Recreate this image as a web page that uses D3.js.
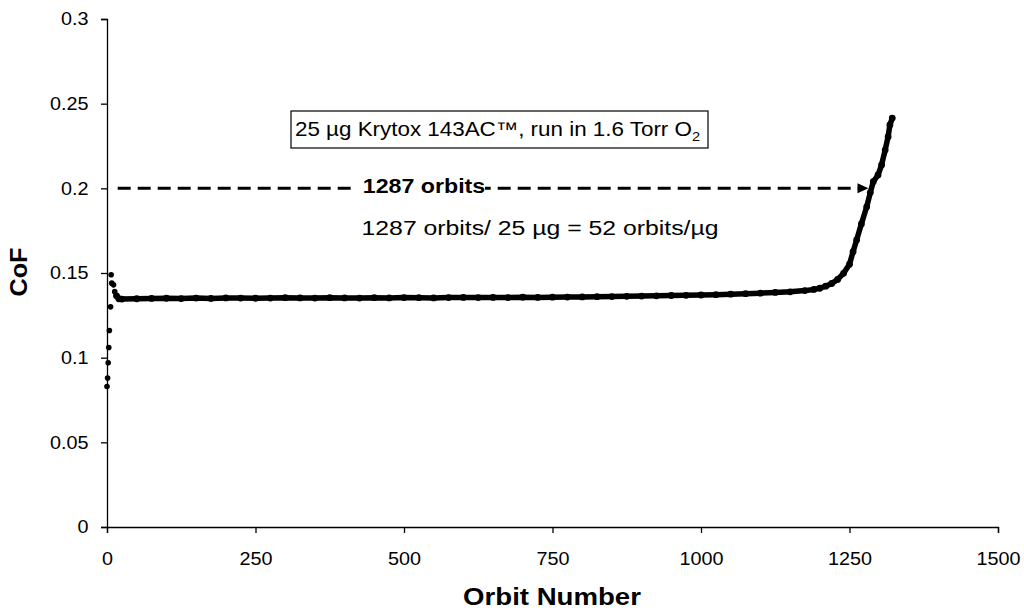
<!DOCTYPE html>
<html>
<head>
<meta charset="utf-8">
<script src="https://cdn.jsdelivr.net/npm/d3@7"></script>
<style>
  body { margin: 0; background: #fff; }
  svg { display: block; font-family: "Liberation Sans", Arial, sans-serif; }
</style>
</head>
<body>
<svg id="chart" width="1024" height="610"></svg>
<script>
// start-up readings (scattered dots, no line)
const startOrbits = [0, 1, 2, 3, 4, 6, 7, 8, 11, 13];
const startCof = [0.083, 0.088, 0.097, 0.106, 0.116, 0.130, 0.149, 0.144, 0.143, 0.139];

// main trace
const orbits = [16, 20, 25, 50, 75, 100, 125, 150, 175, 200, 225, 250, 275, 300, 325, 350, 375, 400,
  425, 450, 475, 500, 525, 550, 575, 600, 625, 650, 675, 700, 725, 750, 775, 800, 825, 850, 875, 900,
  925, 950, 975, 1000, 1025, 1050, 1075, 1100, 1125, 1150, 1175, 1190, 1200, 1210, 1220, 1230, 1240,
  1250, 1256, 1262, 1270, 1279, 1285, 1290, 1298, 1304, 1310, 1315, 1318, 1322];
const cof = [0.1365, 0.1348, 0.1346, 0.1348, 0.1350, 0.1351, 0.1349, 0.1352, 0.1350, 0.1353, 0.1352, 0.1351,
  0.1352, 0.1354, 0.1353, 0.1352, 0.1354, 0.1353, 0.1352, 0.1354, 0.1353, 0.1355, 0.1354, 0.1353, 0.1355,
  0.1356, 0.1355, 0.1356, 0.1355, 0.1357, 0.1356, 0.1357, 0.1358, 0.1359, 0.1360, 0.1361, 0.1362, 0.1364,
  0.1365, 0.1367, 0.1368, 0.1370, 0.1372, 0.1375, 0.1378, 0.1381, 0.1385, 0.1389, 0.1396, 0.1403, 0.1410,
  0.1422, 0.1438, 0.1462, 0.1498, 0.1552, 0.1626, 0.1695, 0.1790, 0.1891, 0.1975, 0.2039, 0.2079, 0.2138,
  0.2226, 0.2305, 0.2374, 0.2415];

const xTicks = [0, 250, 500, 750, 1000, 1250, 1500];
const yTicks = [0, 0.05, 0.1, 0.15, 0.2, 0.25, 0.3];

// arrow annotation (orbit units / CoF)
const arrowFrom = [18, 0.2];
const arrowTo = [1282, 0.2];

const margin = {top: 19, right: 26, bottom: 83, left: 107};
const width = 1024 - margin.left - margin.right;
const height = 610 - margin.top - margin.bottom;

const svg = d3.select('#chart');
const g = svg.append('g').attr('transform', `translate(${margin.left},${margin.top})`);

const x = d3.scaleLinear().domain([0, 1500]).range([0, width]);
const y = d3.scaleLinear().domain([0, 0.3]).range([height, 0]);

// the scanned lettering is a bit wider than Liberation Sans, so stretch it
const label = (parent, px, py, txt, size, sx, opts = {}) => {
  const t = parent.append('text')
    .attr('transform', `translate(${px},${py})` + (opts.rotate ? ` rotate(${opts.rotate})` : '') + ` scale(${sx},1)`)
    .attr('text-anchor', opts.anchor || 'middle')
    .style('font-size', size + 'px')
    .style('font-weight', opts.bold ? 'bold' : 'normal')
    .attr('fill', '#000');
  if (txt !== null) t.text(txt);
  return t;
};

// axes
const xAxis = g.append('g')
  .attr('transform', `translate(0,${height})`)
  .call(d3.axisBottom(x).tickValues(xTicks).tickSize(6).tickPadding(19).tickFormat(d3.format('d')));
const yAxis = g.append('g')
  .call(d3.axisLeft(y).tickValues(yTicks).tickSize(6).tickPadding(12).tickFormat(d => d === 0 ? '0' : String(+d.toFixed(2))));

[xAxis, yAxis].forEach(a => {
  a.selectAll('path, line').attr('stroke', '#000').attr('stroke-width', 1.3);
  a.selectAll('text').attr('fill', '#000').style('font-size', '18px')
    .style('font-family', '"Liberation Sans", Arial, sans-serif');
});
xAxis.selectAll('.tick text').attr('transform', 'scale(1.1,1)')
  .attr('x', function(d) { return 0; });
yAxis.selectAll('.tick text').attr('transform', 'translate(-12,0) scale(1.1,1) translate(12,0)');

// axis titles
label(svg, 552, 605, 'Orbit Number', 23, 1.2, {bold: true});
label(svg, 27, 272, 'CoF', 23, 1.1, {bold: true, rotate: -90});

// data
const pts = orbits.map((o, i) => [o, cof[i]]);
const line = d3.line().x(d => x(d[0])).y(d => y(d[1]));

g.append('path')
  .datum(pts)
  .attr('d', line)
  .attr('fill', 'none')
  .attr('stroke', '#000')
  .attr('stroke-width', 5.5)
  .attr('stroke-linejoin', 'round')
  .attr('stroke-linecap', 'round');

g.selectAll('.dot')
  .data(pts)
  .join('circle')
  .attr('class', 'dot')
  .attr('cx', d => x(d[0]))
  .attr('cy', d => y(d[1]))
  .attr('r', 3.4)
  .attr('fill', '#000');

g.selectAll('.sdot')
  .data(startOrbits.map((o, i) => [o, startCof[i]]))
  .join('circle')
  .attr('class', 'sdot')
  .attr('cx', d => x(d[0]))
  .attr('cy', d => y(d[1]))
  .attr('r', 2.8)
  .attr('fill', '#000');

// dashed arrow
const ay = y(arrowFrom[1]);
const ax2 = x(arrowTo[0]);
g.append('line')
  .attr('x1', x(arrowFrom[0])).attr('y1', ay)
  .attr('x2', ax2 - 8).attr('y2', ay)
  .attr('stroke', '#000')
  .attr('stroke-width', 3)
  .attr('stroke-dasharray', '13,7');
g.append('path')
  .attr('d', `M${ax2},${ay} L${ax2 - 11},${ay - 5} L${ax2 - 11},${ay + 5} Z`)
  .attr('fill', '#000');

// label over arrow
svg.append('rect')
  .attr('x', 353).attr('y', 173).attr('width', 132).attr('height', 26)
  .attr('fill', '#fff');
label(svg, 424, 193, '1287 orbits', 20, 1.16, {bold: true});

label(svg, 540, 235, '1287 orbits/ 25 \u00b5g = 52 orbits/\u00b5g', 21, 1.18);

// boxed note
svg.append('rect')
  .attr('x', 291).attr('y', 111).attr('width', 417).attr('height', 37)
  .attr('fill', '#fff').attr('stroke', '#000').attr('stroke-width', 1.2);
const note = label(svg, 295, 136, null, 20, 1.12, {anchor: 'start'});
note.append('tspan').text('25 \u00b5g Krytox 143AC\u2122, run in 1.6 Torr O');
note.append('tspan').attr('dy', 5).style('font-size', '13px').text('2');
</script>
</body>
</html>
